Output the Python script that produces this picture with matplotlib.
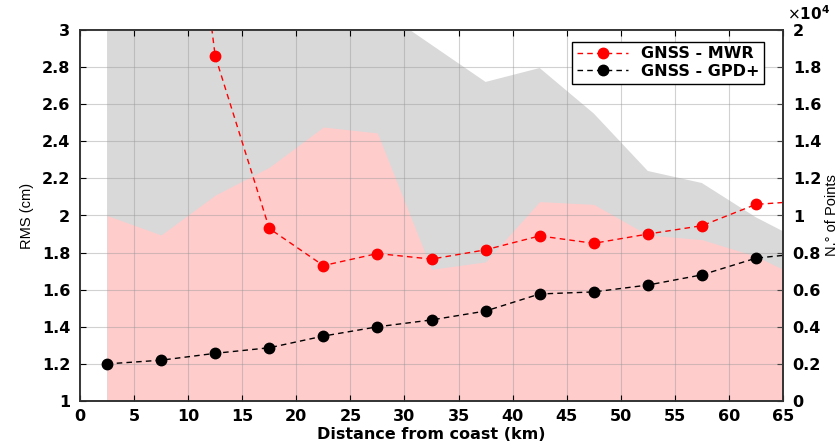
import matplotlib
matplotlib.use("Agg")
import matplotlib.pyplot as plt
import numpy as np

plt.rcParams['font.family'] = ['Liberation Sans', 'DejaVu Sans']

# Distance bins (km)
dist_area = [2.5, 7.5, 12.5, 17.5, 22.5, 27.5, 32.5, 37.5, 42.5, 47.5, 52.5, 57.5, 62.5, 67.5]
# Number of points (gray = total, pink = second set)
points_gray = [26000, 27000, 25000, 24000, 23000, 21200, 19200, 17200, 17950, 15500, 12400, 11750, 9900, 8400]
points_pink = [10000, 8950, 11100, 12600, 14770, 14450, 7100, 7500, 10750, 10600, 8950, 8700, 7800, 6400]

# RMS series
dist_mwr = [7.5, 12.5, 17.5, 22.5, 27.5, 32.5, 37.5, 42.5, 47.5, 52.5, 57.5, 62.5, 67.5]
rms_mwr = [5.2, 2.86, 1.93, 1.73, 1.795, 1.765, 1.815, 1.89, 1.85, 1.90, 1.945, 2.06, 2.08]
dist_gpd = [2.5, 7.5, 12.5, 17.5, 22.5, 27.5, 32.5, 37.5, 42.5, 47.5, 52.5, 57.5, 62.5, 67.5]
rms_gpd = [1.20, 1.22, 1.257, 1.287, 1.35, 1.40, 1.437, 1.485, 1.577, 1.588, 1.625, 1.68, 1.77, 1.80]

x_ticks = list(range(0, 70, 5))
rms_ticks = [1, 1.2, 1.4, 1.6, 1.8, 2, 2.2, 2.4, 2.6, 2.8, 3]
pts_ticks = [0, 2000, 4000, 6000, 8000, 10000, 12000, 14000, 16000, 18000, 20000]

BOLD = dict(family=['DejaVu Sans'], weight='bold')

fig = plt.figure(figsize=(8.4, 4.44), dpi=100)
ax = fig.add_axes([80/840, 43/444, 703/840, 371/444])
ax2 = ax.twinx()

ax2.fill_between(dist_area, 0, points_gray, color='#d9d9d9', linewidth=0)
ax2.fill_between(dist_area, 0, points_pink, color='#ffcccc', linewidth=0)
ax2.set_ylim(0, 20000)
ax2.set_yticks(pts_ticks)
ax2.set_yticklabels(['%g' % (v / 1e4) for v in pts_ticks], fontsize=11.5, **BOLD)
ax2.set_ylabel('N.° of Points', fontsize=10.5, labelpad=3)
ax2.text(1.006, 1.02, r'$\times\mathbf{10^{4}}$', transform=ax.transAxes,
         fontsize=11, ha='left', va='bottom')

ax.set_zorder(ax2.get_zorder() + 1)
ax.patch.set_visible(False)

ax.plot(dist_mwr, rms_mwr, '--', color='red', marker='o', markersize=7.5, linewidth=1,
        dashes=(4, 3), label='GNSS - MWR')
ax.plot(dist_gpd, rms_gpd, '--', color='black', marker='o', markersize=7.5, linewidth=1,
        dashes=(4, 3), label='GNSS - GPD+')

ax.set_xlim(0, 65)
ax.set_ylim(1, 3)
ax.set_xticks(x_ticks)
ax.set_yticks(rms_ticks)
ax.set_yticklabels(['%g' % v for v in rms_ticks], fontsize=11.5, **BOLD)
ax.set_xticklabels([str(v) for v in x_ticks], fontsize=11.5, **BOLD)
ax.set_xlabel('Distance from coast (km)', fontsize=11.5, labelpad=2, **BOLD)
ax.set_ylabel('RMS (cm)', fontsize=10.5, labelpad=6)
ax.grid(True, color='#999999', alpha=0.45, linewidth=0.8)
ax.tick_params(axis='both', direction='in', top=True, length=4, width=0.8, colors='black')
ax.tick_params(axis='x', pad=6)
ax.tick_params(axis='y', pad=7)
ax2.tick_params(direction='in', length=4, width=0.8, pad=7)
for a in (ax, ax2):
    for s in a.spines.values():
        s.set_linewidth(1.2)
        s.set_color('#333333')

leg = ax.legend(loc='upper right', bbox_to_anchor=(0.985, 0.99), fancybox=False,
                edgecolor='black', framealpha=1, prop={'weight': 'bold', 'size': 11.5, 'family': 'DejaVu Sans'},
                handlelength=3.2, borderpad=0.3, labelspacing=0.15)
leg.get_frame().set_linewidth(1.0)

fig.savefig('out.png', dpi=100)
